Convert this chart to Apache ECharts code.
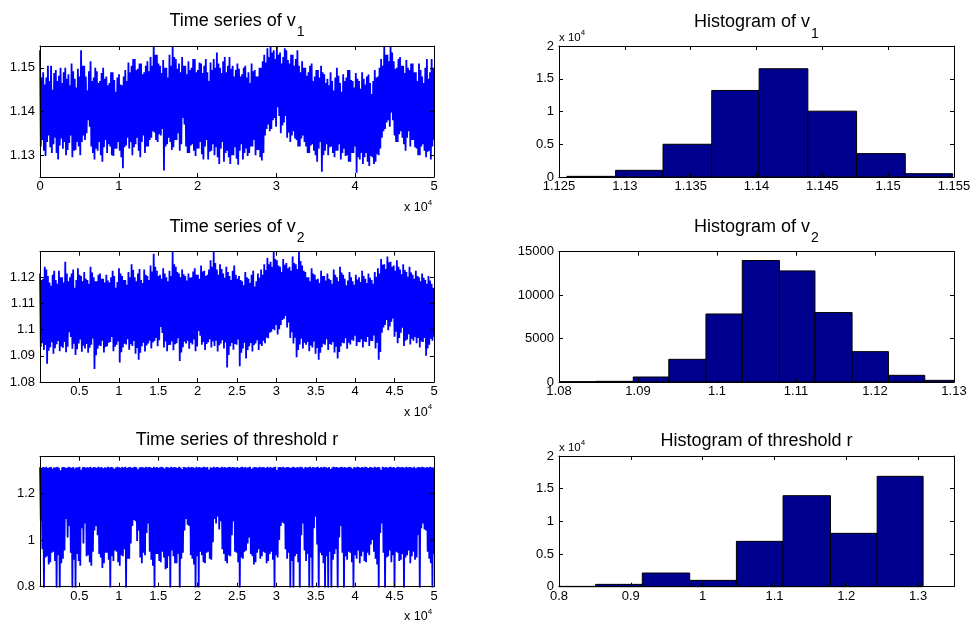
<!DOCTYPE html>
<html><head><meta charset="utf-8">
<script src="https://cdn.jsdelivr.net/npm/echarts@6/dist/echarts.min.js"></script>
<style>html,body{margin:0;padding:0;background:#fff}#c{width:973px;height:623px}</style>
</head><body><div id="c"></div>
<script>
const FONT = '"Liberation Sans", Arial, Helvetica, sans-serif';

// ---- time series, read as upper / lower envelope values along the run (250 readings each) ----
const v1Hi = [
1.1540,1.1478,1.1490,1.1462,1.1478,1.1505,1.1470,1.1505,1.1450,1.1488,1.1495,1.1470,1.1482,1.1500,
1.1465,1.1490,1.1500,1.1475,1.1485,1.1460,1.1510,1.1492,1.1475,1.1455,1.1498,1.1480,1.1540,1.1505,
1.1505,1.1480,1.1448,1.1492,1.1515,1.1470,1.1478,1.1500,1.1492,1.1465,1.1470,1.1488,1.1500,1.1475,
1.1480,1.1460,1.1465,1.1490,1.1490,1.1472,1.1445,1.1478,1.1485,1.1462,1.1460,1.1480,1.1495,1.1470,
1.1512,1.1490,1.1505,1.1520,1.1520,1.1495,1.1498,1.1510,1.1510,1.1485,1.1490,1.1505,1.1515,1.1492,
1.1525,1.1505,1.1550,1.1530,1.1530,1.1510,1.1505,1.1488,1.1518,1.1500,1.1500,1.1478,
1.1530,1.1505,1.1550,1.1525,1.1520,1.1498,1.1510,1.1490,1.1525,1.1505,1.1505,1.1485,
1.1515,1.1495,1.1500,1.1520,1.1520,1.1490,1.1495,1.1512,1.1510,1.1488,1.1505,1.1520,1.1490,1.1470,1.1512,1.1495,
1.1520,1.1500,1.1535,1.1510,1.1500,1.1488,1.1515,1.1525,1.1490,1.1505,1.1525,1.1498,1.1505,1.1480,1.1495,1.1510,
1.1498,1.1480,1.1485,1.1500,1.1505,1.1478,1.1490,1.1465,1.1510,1.1492,1.1495,1.1480,1.1480,1.1500,1.1500,1.1515,
1.1530,1.1512,1.1545,1.1525,1.1550,1.1535,1.1540,1.1520,1.1550,1.1530,
1.1535,1.1510,1.1525,1.1545,1.1540,1.1518,1.1510,1.1530,1.1530,1.1505,1.1520,1.1540,1.1505,1.1490,1.1515,1.1500,
1.1500,1.1482,1.1490,1.1505,1.1510,1.1470,1.1480,1.1495,1.1495,1.1478,1.1505,1.1490,1.1485,1.1465,
1.1475,1.1460,1.1490,1.1470,1.1448,1.1478,1.1500,1.1482,1.1465,1.1445,1.1485,1.1470,1.1478,1.1495,1.1495,1.1472,1.1470,1.1455,1.1488,1.1475,
1.1470,1.1452,1.1490,1.1475,1.1462,1.1480,1.1485,1.1465,1.1440,1.1470,1.1495,1.1478,1.1480,1.1500,
1.1520,1.1505,1.1550,1.1530,1.1530,1.1515,1.1550,1.1535,
1.1515,1.1498,1.1500,1.1520,1.1525,1.1505,1.1505,1.1488,1.1518,1.1500,1.1495,1.1510,1.1510,1.1490,
1.1490,1.1470,1.1510,1.1495,1.1480,1.1465,1.1500,1.1520,1.1475,1.1490,1.1520,1.1500];
const v1Lo = [
1.1320,1.1335,1.1310,1.1298,1.1330,1.1345,1.1318,1.1305,1.1325,1.1340,1.1305,1.1290,1.1322,1.1338,
1.1315,1.1330,1.1300,1.1312,1.1328,1.1345,1.1295,1.1310,1.1312,1.1330,1.1320,1.1300,1.1330,1.1345,
1.1335,1.1350,1.1380,1.1365,1.1320,1.1305,1.1290,1.1315,1.1310,1.1330,1.1300,1.1285,1.1318,1.1335,
1.1305,1.1325,1.1320,1.1300,1.1298,1.1315,1.1315,1.1330,1.1310,1.1295,1.1270,1.1318,1.1322,1.1340,
1.1315,1.1330,1.1300,1.1318,1.1325,1.1340,1.1310,1.1295,1.1330,1.1345,1.1305,1.1320,1.1320,1.1335,
1.1340,1.1355,1.1352,1.1335,1.1330,1.1348,1.1345,1.1360,1.1265,1.1320,1.1325,1.1340,
1.1330,1.1312,1.1318,1.1335,1.1335,1.1350,1.1310,1.1325,1.1385,1.1370,1.1320,1.1305,
1.1305,1.1322,1.1325,1.1310,1.1298,1.1315,1.1315,1.1330,1.1302,1.1290,1.1320,1.1335,1.1290,1.1308,1.1310,1.1325,
1.1300,1.1318,1.1295,1.1280,1.1315,1.1330,1.1285,1.1305,1.1310,1.1295,1.1280,1.1300,1.1300,1.1318,1.1292,1.1278,
1.1310,1.1325,1.1290,1.1305,1.1315,1.1298,1.1305,1.1320,1.1320,1.1335,1.1300,1.1312,1.1312,1.1295,1.1288,1.1305,
1.1345,1.1360,1.1370,1.1355,1.1360,1.1380,1.1385,1.1365,1.1410,1.1390,
1.1350,1.1368,1.1375,1.1390,1.1340,1.1352,1.1330,1.1345,1.1355,1.1338,1.1335,1.1320,1.1320,1.1338,1.1345,1.1330,
1.1320,1.1305,1.1305,1.1322,1.1325,1.1310,1.1300,1.1285,1.1315,1.1330,1.1262,1.1300,1.1310,1.1325,
1.1300,1.1318,1.1320,1.1305,1.1295,1.1310,1.1310,1.1325,1.1290,1.1305,1.1315,1.1298,1.1300,1.1285,1.1285,1.1305,1.1305,1.1320,1.1260,1.1295,
1.1290,1.1305,1.1280,1.1295,1.1305,1.1285,1.1275,1.1298,1.1295,1.1280,1.1285,1.1302,1.1300,1.1315,
1.1340,1.1355,1.1360,1.1375,1.1380,1.1365,1.1398,1.1380,
1.1345,1.1330,1.1330,1.1348,1.1355,1.1340,1.1325,1.1310,1.1340,1.1355,1.1320,1.1335,1.1335,1.1318,
1.1315,1.1300,1.1300,1.1320,1.1325,1.1310,1.1295,1.1308,1.1310,1.1290,1.1320,1.1335];

const v2Hi = [
1.1215,1.1190,1.1195,1.1240,1.1230,1.1205,1.1180,1.1168,1.1210,1.1225,1.1190,1.1175,1.1225,1.1200,
1.1200,1.1180,1.1260,1.1215,1.1185,1.1200,1.1215,1.1230,1.1160,1.1190,1.1235,1.1210,1.1205,1.1185,
1.1220,1.1195,1.1190,1.1175,1.1240,1.1218,1.1200,1.1185,1.1185,1.1210,1.1215,1.1195,1.1195,1.1180,
1.1210,1.1188,1.1180,1.1200,1.1225,1.1205,1.1160,1.1182,1.1235,1.1215,1.1205,1.1190,1.1190,1.1172,
1.1220,1.1200,1.1250,1.1228,1.1200,1.1185,1.1215,1.1232,1.1190,1.1178,1.1230,1.1210,1.1205,1.1190,
1.1245,1.1222,1.1290,1.1240,1.1225,1.1205,1.1210,1.1195,1.1235,1.1215,1.1200,1.1185,
1.1225,1.1205,1.1298,1.1250,1.1240,1.1220,1.1215,1.1200,1.1230,1.1212,1.1205,1.1188,
1.1215,1.1198,1.1200,1.1222,1.1235,1.1210,1.1210,1.1195,1.1245,1.1222,1.1225,1.1205,1.1210,1.1230,1.1265,1.1240,
1.1298,1.1255,1.1230,1.1210,1.1250,1.1232,1.1215,1.1198,1.1240,1.1220,1.1205,1.1190,1.1225,1.1245,1.1210,1.1195,
1.1205,1.1190,1.1185,1.1170,1.1220,1.1200,1.1195,1.1178,1.1210,1.1225,1.1165,1.1185,1.1215,1.1198,1.1230,1.1210,
1.1250,1.1228,1.1275,1.1250,1.1260,1.1240,1.1298,1.1270,1.1265,1.1245,
1.1240,1.1220,1.1270,1.1248,1.1255,1.1235,1.1240,1.1225,1.1280,1.1255,1.1250,1.1232,1.1298,1.1262,1.1245,1.1225,
1.1220,1.1200,1.1200,1.1185,1.1235,1.1215,1.1210,1.1192,1.1195,1.1178,1.1225,1.1205,1.1205,1.1188,
1.1215,1.1195,1.1190,1.1175,1.1230,1.1210,1.1200,1.1185,1.1240,1.1218,1.1210,1.1195,1.1170,1.1188,1.1220,1.1200,1.1185,1.1172,1.1210,1.1192,
1.1200,1.1182,1.1225,1.1205,1.1195,1.1178,1.1215,1.1198,1.1190,1.1175,1.1220,1.1202,1.1235,1.1215,
1.1270,1.1248,1.1250,1.1232,1.1280,1.1258,1.1260,1.1240,
1.1245,1.1225,1.1265,1.1240,1.1230,1.1212,1.1250,1.1228,1.1220,1.1202,1.1240,1.1218,1.1210,1.1195,
1.1225,1.1205,1.1200,1.1185,1.1215,1.1198,1.1190,1.1175,1.1205,1.1188,1.1175,1.1160];
const v2Lo = [
1.0935,1.0948,1.0922,1.0941,1.0870,1.0919,1.0933,1.0952,1.0908,1.0929,1.0944,1.0957,1.0918,1.0936,
1.0931,1.0953,1.0914,1.0935,1.0990,1.0972,1.0927,1.0946,1.0903,1.0925,1.0947,1.0962,1.0916,1.0939,
1.0928,1.0945,1.0912,1.0931,1.0942,1.0966,1.0850,1.0902,1.0927,1.0940,1.0938,1.0958,1.0913,1.0934,
1.0937,1.0950,1.0953,1.0972,1.0918,1.0935,1.0942,1.0955,1.0875,1.0914,1.0932,1.0946,1.0943,1.0963,
1.0923,1.0944,1.0938,1.0957,1.0908,1.0930,1.0885,1.0912,1.0937,1.0950,1.0917,1.0940,1.0947,1.0958,
1.0928,1.0951,1.0957,1.0968,1.0937,1.0960,1.1010,1.0987,1.0932,1.0955,1.0918,1.0941,
1.0942,1.0955,1.0921,1.0944,1.0948,1.0967,1.0880,1.0913,1.0933,1.0954,1.0947,1.0958,
1.0927,1.0950,1.0943,1.0962,1.0918,1.0936,1.0995,1.0977,1.0942,1.0953,1.0922,1.0945,1.0952,1.0963,1.0932,1.0955,
1.0938,1.0958,1.0917,1.0940,1.0947,1.0960,1.0928,1.0951,1.0855,1.0903,1.0937,1.0949,1.0923,1.0945,1.0942,1.0962,
1.0860,1.0912,1.0928,1.0950,1.0890,1.0922,1.0937,1.0949,1.0917,1.0941,1.0947,1.0960,1.0922,1.0944,1.0938,1.0958,
1.0948,1.0970,1.0967,1.0988,1.0992,1.1003,1.0998,1.1018,1.0982,1.1002,
1.1018,1.1037,1.1042,1.1052,1.1008,1.1027,1.0968,1.0990,1.0947,1.0969,1.0895,1.0922,1.0943,1.0965,1.0928,1.0950,
1.0942,1.0953,1.0918,1.0940,1.0932,1.0955,1.0908,1.0930,1.0885,1.0912,1.0933,1.0946,1.0942,1.0963,
1.0922,1.0945,1.0942,1.0953,1.0913,1.0935,1.0890,1.0915,1.0937,1.0950,1.0948,1.0967,1.0927,1.0950,1.0943,1.0962,1.0958,1.0977,1.0938,1.0953,
1.0952,1.0963,1.0932,1.0955,1.0953,1.0972,1.0938,1.0958,1.0957,1.0978,1.0928,1.0950,1.0885,1.0915,
1.0988,1.1008,1.1018,1.1037,1.0998,1.1012,1.1030,1.1043,
1.0973,1.0992,1.0948,1.0968,1.0988,1.1007,1.0938,1.0958,1.0962,1.0983,1.0943,1.0965,1.0958,1.0972,
1.0948,1.0968,1.0932,1.0955,1.0953,1.0968,1.0900,1.0928,1.0942,1.0965,1.0958,1.0972];

const rHi = [
1.311,1.309,1.312,1.310,1.313,1.308,1.311,1.312,1.306,1.311,
1.310,1.313,1.309,1.298,1.311,1.312,1.310,1.308,1.313,1.311,
1.309,1.312,1.305,1.311,1.310,1.313,1.300,1.311,1.312,1.309,
1.311,1.310,1.313,1.308,1.312,1.311,1.309,1.313,1.310,1.312,
1.307,1.311,1.309,1.313,1.310,1.312,1.311,1.304,1.310,1.313,
1.311,1.309,1.312,1.310,1.313,1.308,1.311,1.312,1.309,1.310,
1.313,1.311,1.302,1.310,1.312,1.311,1.309,1.313,1.310,1.312,
1.311,1.308,1.313,1.310,1.312,1.309,1.311,1.313,1.310,1.306,
1.312,1.311,1.309,1.313,1.310,1.312,1.311,1.308,1.313,1.310,
1.303,1.312,1.311,1.309,1.313,1.310,1.312,1.311,1.308,1.313,
1.310,1.312,1.309,1.311,1.313,1.310,1.312,1.301,1.311,1.309,
1.313,1.310,1.312,1.311,1.308,1.313,1.310,1.312,1.309,1.311,
1.313,1.310,1.312,1.311,1.309,1.312,1.308,1.311,1.313,1.310,
1.312,1.309,1.311,1.313,1.304,1.310,1.312,1.311,1.309,1.313,
1.310,1.312,1.311,1.308,1.313,1.310,1.312,1.309,1.311,1.313,
1.299,1.311,1.312,1.310,1.313,1.309,1.311,1.312,1.310,1.308,
1.313,1.311,1.309,1.312,1.310,1.313,1.311,1.306,1.312,1.310,
1.311,1.313,1.309,1.312,1.310,1.311,1.313,1.308,1.312,1.310,
1.313,1.311,1.309,1.312,1.303,1.310,1.313,1.311,1.312,1.309,
1.311,1.313,1.310,1.312,1.309,1.311,1.313,1.310,1.305,1.312,
1.310,1.313,1.311,1.309,1.312,1.310,1.313,1.311,1.308,1.312,
1.311,1.309,1.313,1.310,1.312,1.311,1.300,1.313,1.310,1.312,
1.309,1.311,1.313,1.310,1.312,1.308,1.311,1.313,1.310,1.312,
1.311,1.309,1.313,1.310,1.312,1.311,1.309,1.313,1.307,1.311,
1.312,1.310,1.313,1.311,1.309,1.312,1.310,1.313,1.311,1.310];
const rLo = [
1.080,0.960,0.780,0.925,0.930,0.895,0.905,0.945,0.950,0.910,
0.780,0.935,0.785,0.900,0.920,0.955,1.090,1.010,1.060,0.945,
0.780,0.915,0.790,0.940,0.910,0.890,1.050,0.985,1.070,0.930,
0.935,0.905,0.890,0.950,1.040,1.060,1.020,0.940,0.925,0.880,
0.900,0.945,0.945,0.915,0.780,0.930,0.910,0.955,0.950,0.905,
0.890,0.935,0.930,0.960,0.785,0.920,0.920,0.985,1.060,1.085,
1.080,0.995,1.040,0.925,0.900,0.945,0.935,1.030,1.070,0.950,
0.915,0.890,0.780,0.940,0.940,0.910,0.905,0.950,0.925,0.875,
0.880,0.930,0.780,0.955,0.930,0.900,0.900,0.940,0.785,0.920,
0.945,1.040,1.090,1.065,1.060,0.935,0.920,0.895,0.780,0.930,
0.790,0.950,0.935,0.905,0.900,0.945,0.950,0.920,0.915,0.990,
1.090,1.070,1.100,1.045,1.080,0.960,0.940,0.910,0.900,0.935,
0.930,1.020,1.080,0.950,0.945,0.905,0.780,0.925,0.920,0.950,
0.955,0.985,1.010,0.940,0.930,0.895,0.905,0.945,0.960,0.920,
0.930,0.950,0.945,0.900,0.910,0.940,0.950,0.915,0.780,0.935,
0.925,1.000,1.060,1.075,1.070,0.960,0.920,0.945,0.780,0.910,
0.785,0.930,0.940,0.905,0.780,1.020,1.070,0.955,0.910,0.940,
0.780,0.925,0.790,1.050,1.100,0.980,0.780,0.945,0.935,0.900,
0.780,0.930,0.785,0.950,0.780,0.915,0.940,0.960,0.780,1.010,
1.060,0.945,0.780,0.930,0.915,0.950,0.945,0.905,0.780,0.935,
0.920,0.955,0.900,0.930,0.950,0.910,0.905,0.945,0.935,0.980,
1.000,0.950,0.920,0.895,0.780,1.030,1.070,0.945,0.785,0.925,
0.930,0.955,0.905,0.935,0.780,0.950,0.945,0.910,0.915,0.940,
0.780,0.925,0.935,0.955,0.900,0.930,0.950,0.915,0.925,1.020,
0.780,1.050,1.070,1.045,1.040,0.950,0.920,0.900,0.785,0.940];
const nSamples = 50000;

// ---- histograms: bin edges and counts ----
const h1Edges = [1.1256,1.1293,1.1329,1.1366,1.1402,1.1439,1.1476,1.1513,1.1549];
const h1Counts = [100,1020,5000,13210,16530,10050,3570,510];
const h2Edges = [1.0801,1.0847,1.0894,1.0939,1.0986,1.1032,1.1079,1.1124,1.1171,1.1217,1.1263,1.1300];
const h2Counts = [38,77,575,2610,7830,13990,12790,7990,3495,768,192];
const h3Edges = [0.800,0.851,0.916,0.982,1.047,1.112,1.178,1.243,1.307];
const h3Counts = [51,357,2092,969,6939,13929,8163,16888];

// ---- tick values ----
const tsXTicksA = [0,10000,20000,30000,40000,50000];
const tsXTicksB = [5000,10000,15000,20000,25000,30000,35000,40000,45000,50000];
const ts1YTicks = [1.13,1.14,1.15];
const ts2YTicks = [1.08,1.09,1.10,1.11,1.12];
const ts3YTicks = [0.8,1.0,1.2];
const h1XTicks = [1.125,1.13,1.135,1.14,1.145,1.15,1.155];
const h2XTicks = [1.08,1.09,1.10,1.11,1.12,1.13];
const h3XTicks = [0.8,0.9,1.0,1.1,1.2,1.3];
const hYTicks20k = [0,5000,10000,15000,20000];
const hYTicks15k = [0,5000,10000,15000];

// ---- titles ----
const titles = ['Time series of v{s|1}','Histogram of v{s|1}','Time series of v{s|2}','Histogram of v{s|2}','Time series of threshold r','Histogram of threshold r'];

function zig(hi, lo) {
  const n = hi.length * 2;
  const step = (nSamples - 1) / (n - 1);
  const out = [];
  for (let i = 0; i < hi.length; i++) {
    out.push([1 + 2 * i * step, hi[i]]);
    out.push([1 + (2 * i + 1) * step, lo[i]]);
  }
  return out;
}
function bars(edges, counts) { return counts.map((c, i) => [edges[i], edges[i + 1], c]); }
const num = v => String(+(+v).toFixed(4));
const e4 = v => String(+(v / 1e4).toFixed(2));

const grids = [
  {left: 40, top: 46, width: 394, height: 131},
  {left: 559, top: 46, width: 395, height: 131},
  {left: 40, top: 251.7, width: 394, height: 130.3},
  {left: 559, top: 251.7, width: 395, height: 130.3},
  {left: 40, top: 456.7, width: 394, height: 130},
  {left: 559, top: 456, width: 395, height: 130.7}
].map(g => Object.assign({outerBoundsMode: 'none', containLabel: false}, g));

const axisSpec = [
  {x: [0, 50000, tsXTicksA, e4], y: [1.125, 1.155, ts1YTicks, num]},
  {x: [1.125, 1.155, h1XTicks, num], y: [0, 20000, hYTicks20k, e4]},
  {x: [0, 50000, tsXTicksB, e4], y: [1.08, 1.1298, ts2YTicks, num]},
  {x: [1.08, 1.13, h2XTicks, num], y: [0, 15000, hYTicks15k, num]},
  {x: [0, 50000, tsXTicksB, e4], y: [0.8, 1.356, ts3YTicks, num]},
  {x: [0.8, 1.35, h3XTicks, num], y: [0, 20000, hYTicks20k, e4]}
];

function mkAxis(gi, spec, pos, labeled) {
  const [min, max, ticks, fmt] = spec;
  return {
    type: 'value', gridIndex: gi, min, max, position: pos, z: 5,
    axisLine: {show: true, onZero: false, lineStyle: {color: '#000', width: 1}},
    axisTick: {show: true, inside: true, length: 4, customValues: ticks, lineStyle: {color: '#000', width: 1}},
    axisLabel: {show: labeled, customValues: ticks, formatter: fmt, color: '#000', fontSize: 13, fontFamily: FONT,
                margin: (pos === 'left') ? 5 : 3, showMinLabel: true, showMaxLabel: true},
    splitLine: {show: false}
  };
}
const xAxes = [], yAxes = [];
axisSpec.forEach((s, gi) => {
  xAxes.push(mkAxis(gi, s.x, 'bottom', true));
  xAxes.push(mkAxis(gi, s.x, 'top', false));
  yAxes.push(mkAxis(gi, s.y, 'left', true));
  yAxes.push(mkAxis(gi, s.y, 'right', false));
});

function lineSeries(gi, hi, lo) {
  return {type: 'line', xAxisIndex: 2 * gi, yAxisIndex: 2 * gi, data: zig(hi, lo), symbol: 'none', showSymbol: false,
          lineStyle: {color: '#0000FF', width: 1.8, join: 'miter', miterLimit: 4}, clip: true, animation: false, silent: true, z: 1};
}
function histSeries(gi, edges, counts) {
  return {type: 'custom', xAxisIndex: 2 * gi, yAxisIndex: 2 * gi, data: bars(edges, counts),
    encode: {x: [0, 1], y: 2}, animation: false, silent: true, z: 1,
    renderItem: (params, api) => {
      const p0 = api.coord([api.value(0), api.value(2)]);
      const p1 = api.coord([api.value(1), 0]);
      return {type: 'rect', shape: {x: p0[0], y: p0[1], width: p1[0] - p0[0], height: p1[1] - p0[1]},
              style: {fill: '#00008F', stroke: '#000', lineWidth: 1}};
    }};
}

const titleRich = {
  a: {fontSize: 18, fontWeight: 'normal', fontFamily: FONT, color: '#000', lineHeight: 20, verticalAlign: 'top'},
  s: {fontSize: 14, fontWeight: 'normal', fontFamily: FONT, color: '#000', lineHeight: 14, padding: [14, 0, 0, 1], verticalAlign: 'top'}
};
const titleTops = [11.6, 13.1, 217.6, 217.6, 431.0, 432.4];
const title = titles.map((t, i) => {
  const g = grids[i];
  const parts = t.split('{s|');
  const text = '{a|' + parts[0] + '}' + (parts[1] ? '{s|' + parts[1] : '');
  return {text, left: g.left + g.width / 2, top: titleTops[i], textAlign: 'center', padding: 0,
          textStyle: {rich: titleRich, fontSize: 18, fontWeight: 'normal', fontFamily: FONT, color: '#000'}};
});

function expLabel(x, y, size) {
  return {type: 'text', x, y, silent: true,
    style: {text: '{a|x 10}{b|4}', align: 'left', verticalAlign: 'top',
      rich: {a: {fontSize: size, fontFamily: FONT, fill: '#000', color: '#000', lineHeight: size, padding: [3, 0, 0, 0], verticalAlign: 'top'},
             b: {fontSize: 8, fontFamily: FONT, fill: '#000', color: '#000', lineHeight: 8, verticalAlign: 'top'}}}};
}

const chart = echarts.init(document.getElementById('c'), null, {renderer: 'canvas'});
chart.setOption({
  backgroundColor: '#fff',
  animation: false,
  title,
  grid: grids,
  xAxis: xAxes,
  yAxis: yAxes,
  series: [
    lineSeries(0, v1Hi, v1Lo),
    histSeries(1, h1Edges, h1Counts),
    lineSeries(2, v2Hi, v2Lo),
    histSeries(3, h2Edges, h2Counts),
    lineSeries(4, rHi, rLo),
    histSeries(5, h3Edges, h3Counts)
  ],
  graphic: [
    expLabel(404, 198.3, 12.5),
    expLabel(404, 402.8, 12.5),
    expLabel(404, 607.3, 12.5),
    expLabel(559, 28.6, 11.5),
    expLabel(559, 438.6, 11.5)
  ]
});
</script></body></html>
